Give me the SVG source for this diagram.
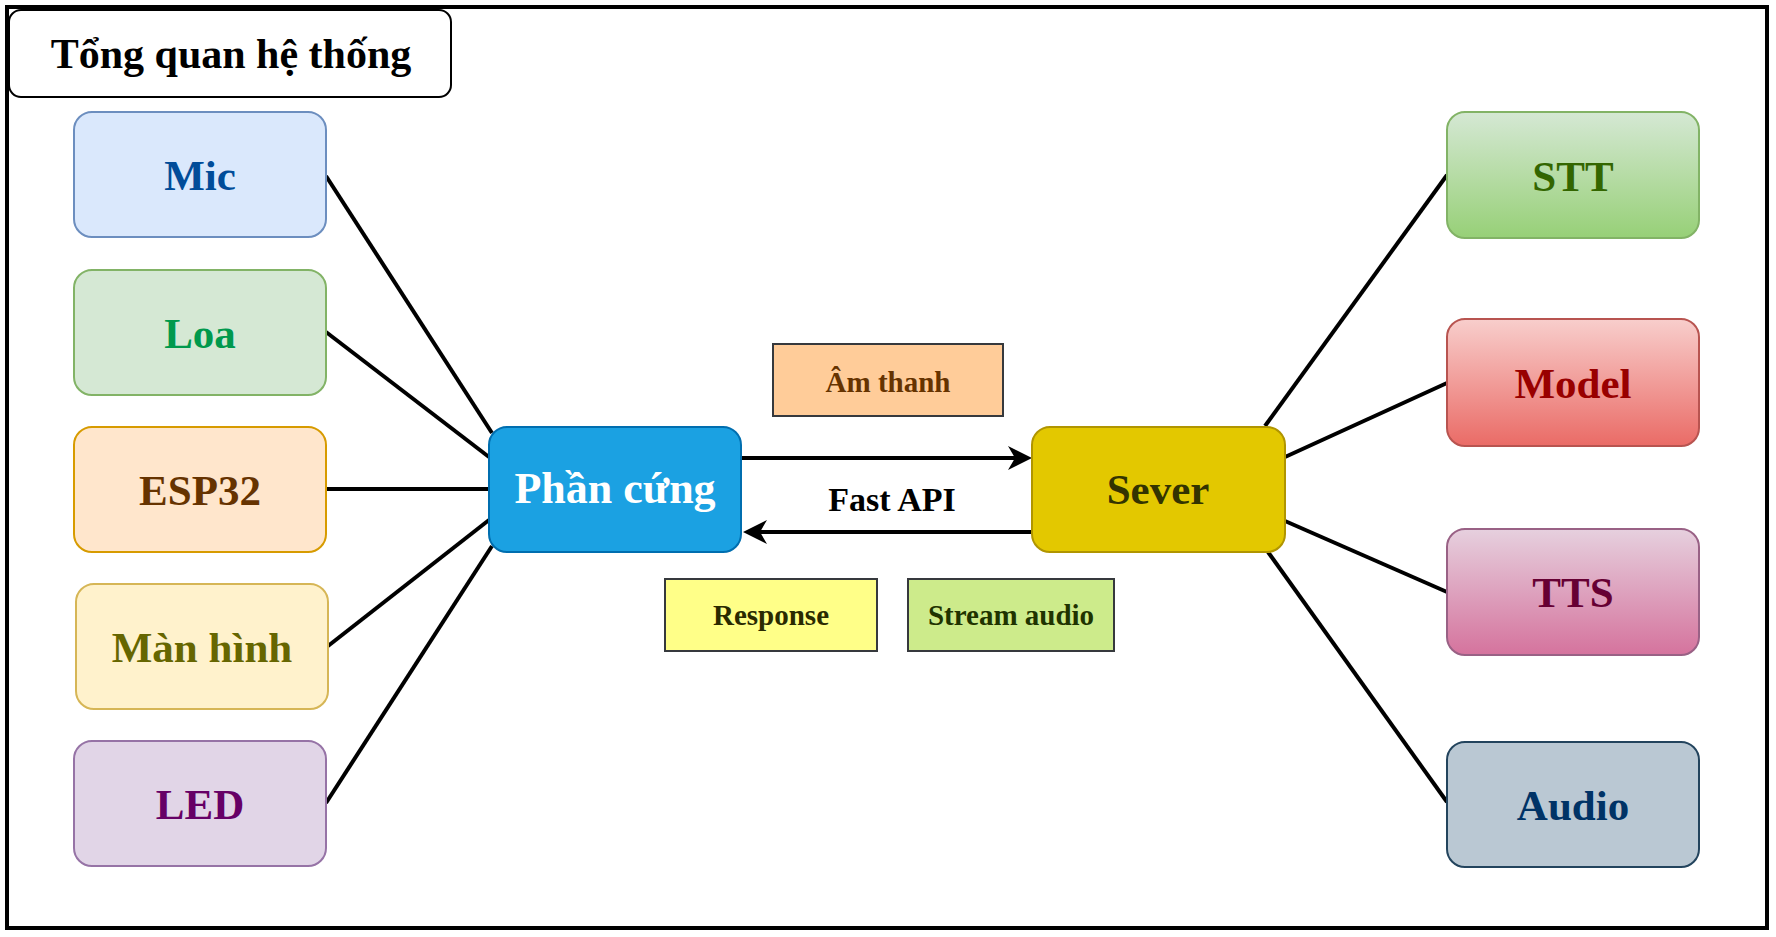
<svg xmlns="http://www.w3.org/2000/svg" width="1776" height="937" viewBox="0 0 1776 937">
<style>
text{font-family:"Liberation Serif","Times New Roman",serif;font-weight:bold;text-anchor:middle}
.n{stroke-width:2}
.lbl{font-size:43px}
.sm{font-size:29px}
.edge{stroke:#000;stroke-width:4;fill:none}
.tag{stroke:#36393d;stroke-width:2}
</style>
<defs>
<linearGradient id="gStt" x1="0" y1="0" x2="0" y2="1"><stop offset="0" stop-color="#d5e8d4"/><stop offset="1" stop-color="#97d077"/></linearGradient>
<linearGradient id="gModel" x1="0" y1="0" x2="0" y2="1"><stop offset="0" stop-color="#f8cecc"/><stop offset="1" stop-color="#ea6b66"/></linearGradient>
<linearGradient id="gTts" x1="0" y1="0" x2="0" y2="1"><stop offset="0" stop-color="#e6d0de"/><stop offset="1" stop-color="#d5739d"/></linearGradient>
<marker id="arr" viewBox="0 0 24 24" refX="14" refY="12" markerWidth="24" markerHeight="24" markerUnits="userSpaceOnUse" orient="auto">
<path d="M0,0 L24,12 L0,24 L7,12 Z" fill="#000"/>
</marker>
</defs>
<rect x="0" y="0" width="1776" height="937" fill="#fff"/>
<rect x="7" y="7" width="1760" height="921" fill="#fff" stroke="#000" stroke-width="4"/>

<g id="title">
<rect x="9" y="10" width="442" height="87" rx="12" fill="#fff" stroke="#000" stroke-width="2"/>
<text x="231" y="68" font-size="42" fill="#000">Tổng quan hệ thống</text>
</g>

<g id="connectors">
<line class="edge" x1="326" y1="176" x2="492" y2="433"/>
<line class="edge" x1="326" y1="332" x2="489" y2="457"/>
<line class="edge" x1="326" y1="489" x2="489" y2="489"/>
<line class="edge" x1="328" y1="646" x2="489" y2="520"/>
<line class="edge" x1="326" y1="803" x2="492" y2="546"/>
<line class="edge" x1="1265" y1="426" x2="1447" y2="175"/>
<line class="edge" x1="1285" y1="457" x2="1447" y2="383"/>
<line class="edge" x1="1285" y1="521" x2="1447" y2="592"/>
<line class="edge" x1="1268" y1="552" x2="1447" y2="802"/>
<line class="edge" x1="741" y1="458" x2="1022" y2="458" marker-end="url(#arr)"/>
<line class="edge" x1="1032" y1="532" x2="753" y2="532" marker-end="url(#arr)"/>
</g>

<g id="mic">
<rect class="n" x="74" y="112" width="252" height="125" rx="18" fill="#dae8fc" stroke="#6c8ebf"/>
<text class="lbl" x="200" y="190" fill="#004c99">Mic</text>
</g>
<g id="loa">
<rect class="n" x="74" y="270" width="252" height="125" rx="18" fill="#d5e8d4" stroke="#82b366"/>
<text class="lbl" x="200" y="348" fill="#00994d">Loa</text>
</g>
<g id="esp32">
<rect class="n" x="74" y="427" width="252" height="125" rx="18" fill="#ffe6cc" stroke="#d79b00"/>
<text class="lbl" x="200" y="505" fill="#663300">ESP32</text>
</g>
<g id="manhinh">
<rect class="n" x="76" y="584" width="252" height="125" rx="18" fill="#fff2cc" stroke="#d6b656"/>
<text class="lbl" x="202" y="662" fill="#666600">Màn hình</text>
</g>
<g id="led">
<rect class="n" x="74" y="741" width="252" height="125" rx="18" fill="#e1d5e7" stroke="#9673a6"/>
<text class="lbl" x="200" y="819" fill="#660066">LED</text>
</g>

<g id="phancung">
<rect class="n" x="489" y="427" width="252" height="125" rx="18" fill="#1ba1e2" stroke="#006eaf"/>
<text x="615" y="503" font-size="44" fill="#fff">Phần cứng</text>
</g>
<g id="sever">
<rect class="n" x="1032" y="427" width="253" height="125" rx="18" fill="#e3c800" stroke="#b09500"/>
<text class="lbl" x="1158" y="504" fill="#333300">Sever</text>
</g>

<g id="amthanh">
<rect class="tag" x="773" y="344" width="230" height="72" fill="#ffcc99"/>
<text class="sm" x="888" y="392" fill="#663300">Âm thanh</text>
</g>
<g id="fastapi">
<text x="892" y="511" font-size="34" fill="#000">Fast API</text>
</g>
<g id="response">
<rect class="tag" x="665" y="579" width="212" height="72" fill="#ffff88"/>
<text class="sm" x="771" y="625" fill="#2a2a00">Response</text>
</g>
<g id="stream">
<rect class="tag" x="908" y="579" width="206" height="72" fill="#cdeb8b"/>
<text class="sm" x="1011" y="625" fill="#1f3300">Stream audio</text>
</g>

<g id="stt">
<rect class="n" x="1447" y="112" width="252" height="126" rx="18" fill="url(#gStt)" stroke="#82b366"/>
<text class="lbl" x="1573" y="191" fill="#336600">STT</text>
</g>
<g id="model">
<rect class="n" x="1447" y="319" width="252" height="127" rx="18" fill="url(#gModel)" stroke="#b85450"/>
<text class="lbl" x="1573" y="398" fill="#990000">Model</text>
</g>
<g id="tts">
<rect class="n" x="1447" y="529" width="252" height="126" rx="18" fill="url(#gTts)" stroke="#996185"/>
<text class="lbl" x="1573" y="607" fill="#660033">TTS</text>
</g>
<g id="audio">
<rect class="n" x="1447" y="742" width="252" height="125" rx="18" fill="#bac8d3" stroke="#23445d"/>
<text class="lbl" x="1573" y="820" fill="#003366">Audio</text>
</g>
</svg>
